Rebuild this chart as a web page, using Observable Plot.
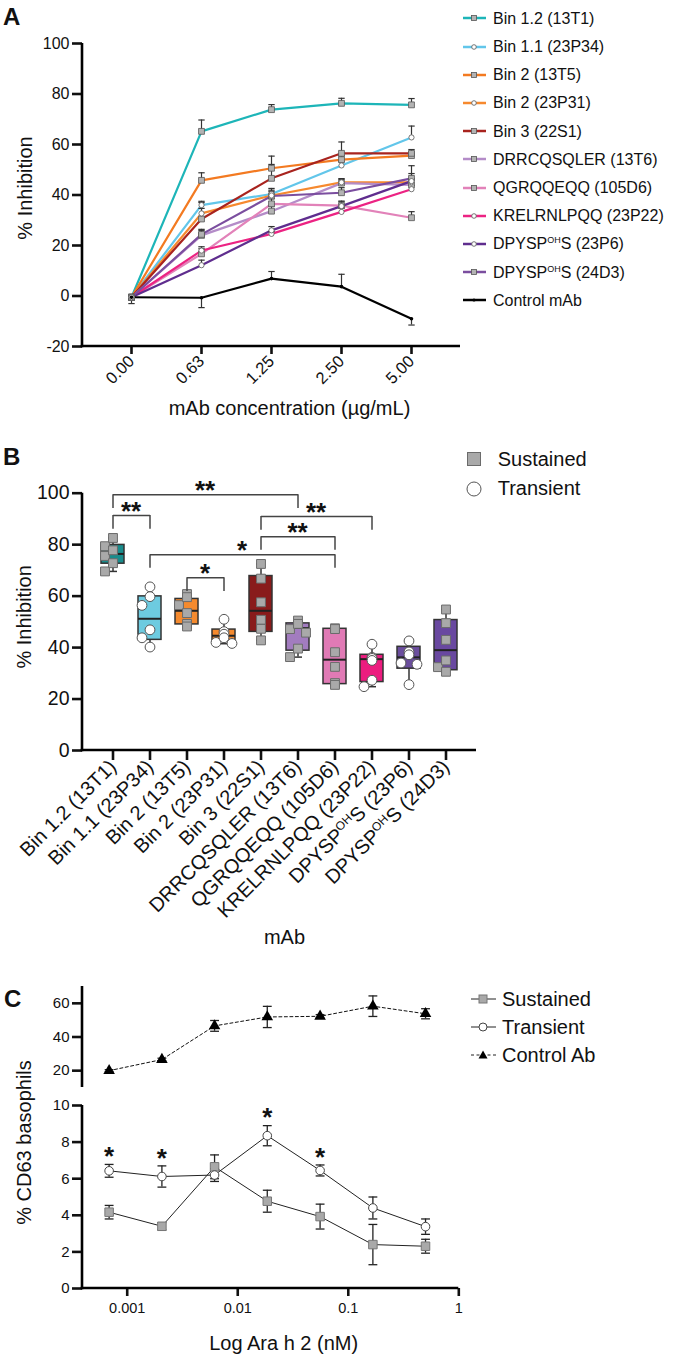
<!DOCTYPE html>
<html>
<head>
<meta charset="utf-8">
<script src="https://cdn.jsdelivr.net/npm/d3@7"></script>
<script src="https://cdn.jsdelivr.net/npm/@observablehq/plot@0.6"></script>
<style>
html,body{margin:0;padding:0;background:#fff;}
#page{position:relative;width:677px;height:1360px;overflow:hidden;font-family:"Liberation Sans",Arial,Helvetica,sans-serif;color:#111;}
.letter{position:absolute;font-weight:bold;font-size:24px;line-height:24px;}
.lg{position:absolute;white-space:nowrap;}
.lg sup{font-size:9px;vertical-align:6px;line-height:0;}
</style>
</head>
<body>
<div id="page"></div>
<script>
// ================= DATA =================
// ---- Panel A ----
const concLabels = ["0.00", "0.63", "1.25", "2.50", "5.00"];
const yTicksA = [-20, 0, 20, 40, 60, 80, 100];
const seriesA = ["Bin 1.2 (13T1)", "Bin 1.1 (23P34)", "Bin 2 (13T5)", "Bin 2 (23P31)", "Bin 3 (22S1)",
  "DRRCQSQLER (13T6)", "QGRQQEQQ (105D6)", "KRELRNLPQQ (23P22)", "DPYSPOHS (23P6)", "DPYSPOHS (24D3)", "Control mAb"];
const markerA = ["square", "circle", "square", "circle", "square", "square", "square", "circle", "circle", "square", "dot"];
const inh13T1  = [-0.5, 65.2, 73.8, 76.3, 75.7];
const err13T1  = [0, 4.5, 2.0, 2.0, 2.5];
const inh23P34 = [-0.5, 36.0, 40.4, 51.7, 62.8];
const err23P34 = [0, 1.5, 1.5, 1.5, 4.5];
const inh13T5  = [-0.5, 45.8, 50.6, 54.0, 55.6];
const err13T5  = [0, 3.0, 1.5, 1.5, 1.5];
const inh23P31 = [-0.5, 32.7, 39.8, 45.0, 45.0];
const err23P31 = [0, 2.0, 1.5, 1.5, 1.5];
const inh22S1  = [-0.5, 30.5, 46.6, 56.5, 56.5];
const err22S1  = [0, 6.5, 8.8, 4.5, 1.5];
const inh13T6  = [-0.5, 24.0, 33.6, 44.7, 44.0];
const err13T6  = [0, 2.0, 2.0, 1.5, 2.0];
const inh105D6 = [-0.5, 16.7, 36.5, 35.8, 31.0];
const err105D6 = [0, 2.0, 2.0, 1.5, 2.4];
const inh23P22 = [-0.5, 18.0, 24.6, 33.3, 42.3];
const err23P22 = [0, 1.5, 1.0, 1.5, 1.5];
const inh23P6  = [-0.5, 12.2, 26.0, 35.6, 45.5];
const err23P6  = [0, 2.0, 1.5, 2.0, 3.0];
const inh24D3  = [-0.5, 24.4, 39.6, 40.9, 46.6];
const err24D3  = [0, 2.0, 3.0, 2.0, 5.0];
const inhCtrl  = [-0.5, -0.7, 6.9, 3.7, -9.0];
const errCtrl  = [-2.5, -3.9, 2.8, 4.9, -2.5];

// ---- Panel B ----
const mAbs = ["Bin 1.2 (13T1)", "Bin 1.1 (23P34)", "Bin 2 (13T5)", "Bin 2 (23P31)", "Bin 3 (22S1)",
  "DRRCQSQLER (13T6)", "QGRQQEQQ (105D6)", "KRELRNLPQQ (23P22)", "DPYSPOHS (23P6)", "DPYSPOHS (24D3)"];
const typeB = ["Sustained", "Transient", "Sustained", "Transient", "Sustained", "Sustained", "Sustained", "Transient", "Transient", "Sustained"];
const yTicksB = [0, 20, 40, 60, 80, 100];
const minB = [69.6, 40.2, 48.2, 41.5, 42.8, 36.3, 25.5, 24.8, 25.6, 30.6];
const q1B  = [72.6, 43.0, 49.0, 42.3, 46.1, 38.8, 25.8, 26.6, 31.8, 31.2];
const medB = [76.4, 51.2, 54.3, 44.6, 54.3, 47.6, 35.3, 35.5, 36.2, 39.0];
const q3B  = [79.9, 59.9, 58.9, 47.0, 67.8, 49.4, 47.3, 37.2, 40.3, 50.7];
const maxB = [82.6, 63.6, 60.8, 51.0, 72.5, 50.5, 47.5, 41.3, 42.6, 54.8];
const ptsB = [
  [82.6, 79.4, 77.8, 75.6, 72.8, 69.6],
  [63.6, 59.8, 56.4, 46.9, 43.8, 40.2],
  [60.8, 59.6, 56.5, 53.4, 49.2, 48.2],
  [51.0, 46.2, 45.2, 43.8, 42.0, 41.6],
  [72.5, 66.8, 57.6, 50.8, 47.3, 42.8],
  [50.5, 49.2, 47.2, 45.8, 39.6, 36.3],
  [47.5, 47.2, 38.2, 32.5, 26.2, 25.5],
  [41.3, 36.2, 35.8, 35.0, 27.3, 24.8],
  [42.6, 38.3, 37.2, 34.0, 33.5, 25.6],
  [54.8, 49.5, 43.0, 35.0, 32.4, 30.6]
];
const bracketFrom  = ["Bin 1.2 (13T1)", "Bin 1.2 (13T1)", "Bin 3 (22S1)", "Bin 3 (22S1)", "Bin 1.1 (23P34)", "Bin 2 (13T5)"];
const bracketTo    = ["DRRCQSQLER (13T6)", "Bin 1.1 (23P34)", "KRELRNLPQQ (23P22)", "QGRQQEQQ (105D6)", "QGRQQEQQ (105D6)", "Bin 2 (23P31)"];
const bracketLevel = [99.4, 91.3, 90.9, 83.1, 76.1, 67.1];
const bracketLabel = ["**", "**", "**", "**", "*", "*"];

// ---- Panel C ----
const araH2 = [0.000686, 0.00206, 0.00617, 0.0185, 0.0556, 0.167, 0.5];
const xTicksC = [0.001, 0.01, 0.1, 1];
const cdSustained  = [4.17, 3.40, 6.65, 4.77, 3.93, 2.40, 2.31];
const errSustained = [0.37, 0.20, 0.65, 0.60, 0.68, 1.10, 0.38];
const cdTransient  = [6.43, 6.12, 6.20, 8.35, 6.45, 4.40, 3.38];
const errTransient = [0.35, 0.58, 0.35, 0.55, 0.30, 0.60, 0.42];
const cdControl    = [20.0, 26.6, 46.6, 51.9, 52.3, 58.3, 53.8];
const errControl   = [0.6, 0.8, 3.2, 6.3, 1.0, 6.1, 3.0];
const starIdxC = [0, 1, 3, 4];
const yTicksCtop = [20, 40, 60];
const yTicksCbot = [0, 2, 4, 6, 8, 10];

// ================= STYLE =================
const font = '"Liberation Sans", Arial, Helvetica, sans-serif';
const colorsA = ["#1db5b8", "#62c6ea", "#f37a21", "#f6892e", "#a8231e", "#b48cc8", "#e282b9", "#ec2383", "#5f2d8e", "#7b4e9f", "#000000"];
const boxColors = ["#198c8c", "#6dcbe0", "#f58a2e", "#f58a2e", "#891b1b", "#a27cbf", "#e07ab5", "#ec1c7f", "#6b4e9e", "#6948a0"];
const capSymbol = {draw(ctx, size) { const w = Math.sqrt(size) / 2; ctx.moveTo(-w, 0); ctx.lineTo(w, 0); }};
const page = document.getElementById("page");

function frameLines({left = true, bottom = true} = {}) {
  return (index, scales, values, dims) => {
    const {width, height, marginTop, marginRight, marginBottom, marginLeft} = dims;
    const g = d3.create("svg:g").attr("stroke", "#000").attr("stroke-width", 2.6).attr("fill", "none");
    const yb = height - marginBottom;
    if (left) g.append("line").attr("x1", marginLeft).attr("x2", marginLeft).attr("y1", marginTop).attr("y2", bottom ? yb + 1.3 : yb);
    if (bottom) g.append("line").attr("x1", marginLeft - 1.3).attr("x2", width - marginRight).attr("y1", yb).attr("y2", yb);
    return g.node();
  };
}
function place(el, top) {
  el.style.position = "absolute"; el.style.left = "0px"; el.style.top = top + "px"; el.style.overflow = "visible";
  page.appendChild(el);
}

// ================= PANEL A =================
const meansA = [inh13T1, inh23P34, inh13T5, inh23P31, inh22S1, inh13T6, inh105D6, inh23P22, inh23P6, inh24D3, inhCtrl];
const errsA  = [err13T1, err23P34, err13T5, err23P31, err22S1, err13T6, err105D6, err23P22, err23P6, err24D3, errCtrl];
const rowsA = [];
seriesA.forEach((s, i) => concLabels.forEach((c, j) => rowsA.push({series: s, conc: c, v: meansA[i][j], e: errsA[i][j], m: markerA[i]})));
const errRowsA = rowsA.filter(d => d.e !== 0);

const plotA = Plot.plot({
  width: 470, height: 420,
  marginLeft: 82, marginRight: 10, marginTop: 43, marginBottom: 74,
  style: {fontFamily: font, fontSize: "16px", color: "#111", background: "none"},
  x: {type: "point", domain: concLabels, padding: 0.662},
  y: {domain: [-20, 100]},
  color: {domain: seriesA, range: colorsA},
  marks: [
    Plot.axisY({ticks: yTicksA, tickFormat: d => String(d), tickSize: 10, tickPadding: 3, fontSize: 16, strokeWidth: 2.6, label: null}),
    Plot.axisX({tickRotate: -45, tickSize: 8, tickPadding: 4, fontSize: 16.5, strokeWidth: 2.6, label: null}),
    frameLines(),
    Plot.line(rowsA, {x: "conc", y: "v", z: "series", stroke: "series", strokeWidth: 2.2}),
    Plot.ruleX(errRowsA, {x: "conc", y1: "v", y2: d => d.v + d.e, stroke: "#333", strokeWidth: 1.2}),
    Plot.dot(errRowsA, {x: "conc", y: d => d.v + d.e, symbol: capSymbol, r: 3.6, stroke: "#333", strokeWidth: 1.2, fill: "none"}),
    Plot.dot(rowsA.filter(d => d.m === "square"), {x: "conc", y: "v", symbol: "square", r: 3.3, fill: "#b3b3b3", stroke: "#555", strokeWidth: 0.8}),
    Plot.dot(rowsA.filter(d => d.m === "circle"), {x: "conc", y: "v", r: 2.6, fill: "#fff", stroke: "#666", strokeWidth: 0.9}),
    Plot.dot(rowsA.filter(d => d.m === "dot"), {x: "conc", y: "v", r: 1.8, fill: "#000"}),
    Plot.text(["% Inhibition"], {frameAnchor: "left", textAnchor: "middle", lineAnchor: "middle", rotate: -90, dx: -57, dy: -7, fontSize: 20}),
    Plot.text(["mAb concentration (µg/mL)"], {frameAnchor: "bottom", textAnchor: "middle", lineAnchor: "middle", dx: 18, dy: 62, fontSize: 20})
  ]
});
place(plotA, 0);

// ================= PANEL B =================
const boxRows = mAbs.map((m, i) => ({mAb: m, min: minB[i], q1: q1B[i], med: medB[i], q3: q3B[i], max: maxB[i]}));
function jitterGroup(values, pxPerUnit, size, dxPx) {
  const order = values.map((v, i) => i).sort((a, b) => values[b] - values[a]);
  const placed = [], j = new Array(values.length);
  for (const i of order) {
    for (const c of [0, -1, 1]) {
      if (placed.every(p => Math.hypot((p.c - c) * dxPx, (p.v - values[i]) * pxPerUnit) >= size)) { j[i] = c; break; }
    }
    if (j[i] === undefined) j[i] = 0;
    placed.push({c: j[i], v: values[i]});
  }
  return j;
}
const ptRowsB = [];
ptsB.forEach((vals, i) => {
  const jit = jitterGroup(vals, 2.575, 8.8, 8);
  vals.forEach((v, k) => ptRowsB.push({mAb: mAbs[i], v, type: typeB[i], j: jit[k]}));
});
const brackets = bracketFrom.map((f, k) => ({from: f, to: bracketTo[k], level: bracketLevel[k], label: bracketLabel[k]}));
const legB = 5.3;
const pointMarksB = [];
for (const j of [-1, 0, 1]) {
  pointMarksB.push(Plot.dot(ptRowsB.filter(d => d.j === j && d.type === "Sustained"), {x: "mAb", y: "v", dx: 8 * j, symbol: "square", r: 5, fill: "#a9a9a9", stroke: "#6b6b6b", strokeWidth: 1}));
  pointMarksB.push(Plot.dot(ptRowsB.filter(d => d.j === j && d.type === "Transient"), {x: "mAb", y: "v", dx: 8 * j, r: 4.9, fill: "#fff", stroke: "#555", strokeWidth: 1}));
}
const starMarkB = (index, scales) => {
  const g = d3.create("svg:g").attr("font-family", font).attr("font-size", 26).attr("font-weight", "bold").attr("text-anchor", "middle").attr("fill", "#111");
  const bw = scales.x.bandwidth ? scales.x.bandwidth() : 0;
  brackets.forEach(b => {
    const x = (scales.x(b.from) + scales.x(b.to)) / 2 + bw / 2;
    g.append("text").attr("x", x).attr("y", scales.y(b.level) + 5).text(b.label);
  });
  return g.node();
};
const plotB = Plot.plot({
  width: 490, height: 540,
  marginLeft: 82, marginRight: 14, marginTop: 62.7, marginBottom: 220,
  style: {fontFamily: font, fontSize: "16px", color: "#111", background: "none"},
  x: {type: "band", domain: mAbs, paddingInner: 0.37, paddingOuter: 0.4},
  y: {domain: [0, 100]},
  color: {domain: mAbs, range: boxColors},
  marks: [
    Plot.axisY({ticks: yTicksB, tickSize: 10, tickPadding: 3, fontSize: 19.5, strokeWidth: 2.6, label: null}),
    Plot.axisX({tickRotate: -45, tickSize: 10, tickPadding: 3, fontSize: 20, strokeWidth: 2.6, label: null}),
    frameLines(),
    Plot.ruleX(boxRows, {x: "mAb", y1: "min", y2: "max", stroke: "#333", strokeWidth: 1.5}),
    Plot.tickY(boxRows, {x: "mAb", y: "min", stroke: "#333", strokeWidth: 1.5, insetLeft: 7, insetRight: 7}),
    Plot.tickY(boxRows, {x: "mAb", y: "max", stroke: "#333", strokeWidth: 1.5, insetLeft: 7, insetRight: 7}),
    Plot.barY(boxRows, {x: "mAb", y1: "q1", y2: "q3", fill: "mAb", stroke: "#333", strokeWidth: 1.5}),
    Plot.tickY(boxRows, {x: "mAb", y: "med", stroke: "#222", strokeWidth: 2}),
    ...pointMarksB,
    Plot.link(brackets, {x1: "from", x2: "to", y1: "level", y2: "level", stroke: "#444", strokeWidth: 1.5}),
    Plot.ruleX(brackets, {x: "from", y1: "level", y2: d => d.level - legB, stroke: "#444", strokeWidth: 1.5}),
    Plot.ruleX(brackets, {x: "to", y1: "level", y2: d => d.level - legB, stroke: "#444", strokeWidth: 1.5}),
    starMarkB,
    Plot.text(["% Inhibition"], {frameAnchor: "left", textAnchor: "middle", lineAnchor: "middle", rotate: -90, dx: -58, dy: -5, fontSize: 20}),
    Plot.text(["mAb"], {frameAnchor: "bottom", textAnchor: "middle", lineAnchor: "middle", dx: 5, dy: 187, fontSize: 20})
  ]
});
// superscript "OH" in DPYSPOHS tick labels
d3.select(plotB).selectAll("text").each(function() {
  const t = this.textContent;
  if (t.startsWith("DPYSPOHS")) {
    const s = d3.select(this); s.text(null);
    s.append("tspan").text("DPYSP");
    s.append("tspan").attr("dy", "-7").attr("font-size", "12").text("OH");
    s.append("tspan").attr("dy", "7").text("S" + t.slice(8));
  }
});
place(plotB, 430);

// ================= PANEL C =================
const ctrlRows = araH2.map((x, i) => ({x, v: cdControl[i], e: errControl[i]}));
const susRows = araH2.map((x, i) => ({x, v: cdSustained[i], e: errSustained[i]}));
const traRows = araH2.map((x, i) => ({x, v: cdTransient[i], e: errTransient[i]}));
const starRowsC = starIdxC.map(i => traRows[i]);
const xC = {type: "log", domain: [0.000394, 1]};

const plotC1 = Plot.plot({
  width: 480, height: 127,
  marginLeft: 82, marginRight: 21.7, marginTop: 26, marginBottom: 0,
  style: {fontFamily: font, fontSize: "15px", color: "#111", background: "none"},
  x: {...xC, axis: null},
  y: {domain: [10, 70]},
  marks: [
    Plot.axisY({ticks: yTicksCtop, tickSize: 10, tickPadding: 3, fontSize: 15, strokeWidth: 2.6, label: null}),
    frameLines({bottom: false}),
    Plot.line(ctrlRows, {x: "x", y: "v", stroke: "#111", strokeWidth: 1, strokeDasharray: "3,2.5"}),
    Plot.ruleX(ctrlRows, {x: "x", y1: d => d.v - d.e, y2: d => d.v + d.e, stroke: "#222", strokeWidth: 1.3}),
    Plot.dot(ctrlRows, {x: "x", y: d => d.v - d.e, symbol: capSymbol, r: 5, stroke: "#222", strokeWidth: 1.3, fill: "none"}),
    Plot.dot(ctrlRows, {x: "x", y: d => d.v + d.e, symbol: capSymbol, r: 5, stroke: "#222", strokeWidth: 1.3, fill: "none"}),
    Plot.dot(ctrlRows, {x: "x", y: "v", symbol: "triangle", r: 4.3, fill: "#000"})
  ]
});
place(plotC1, 960);

function errMarks(rows) {
  return [
    Plot.ruleX(rows, {x: "x", y1: d => d.v - d.e, y2: d => d.v + d.e, stroke: "#222", strokeWidth: 1.3}),
    Plot.dot(rows, {x: "x", y: d => d.v - d.e, symbol: capSymbol, r: 5, stroke: "#222", strokeWidth: 1.3, fill: "none"}),
    Plot.dot(rows, {x: "x", y: d => d.v + d.e, symbol: capSymbol, r: 5, stroke: "#222", strokeWidth: 1.3, fill: "none"})
  ];
}
const plotC2 = Plot.plot({
  width: 480, height: 265,
  marginLeft: 82, marginRight: 21.7, marginTop: 10, marginBottom: 72,
  style: {fontFamily: font, fontSize: "15px", color: "#111", background: "none"},
  x: xC,
  y: {domain: [0, 10]},
  marks: [
    Plot.axisY({ticks: yTicksCbot, tickSize: 10, tickPadding: 3, fontSize: 15, strokeWidth: 2.6, label: null}),
    Plot.axisX({ticks: xTicksC, tickFormat: d => String(d), tickSize: 8, tickPadding: 6, fontSize: 14.5, strokeWidth: 2.6, label: null}),
    frameLines(),
    Plot.line(susRows, {x: "x", y: "v", stroke: "#222", strokeWidth: 1}),
    Plot.line(traRows, {x: "x", y: "v", stroke: "#222", strokeWidth: 1}),
    ...errMarks(susRows),
    ...errMarks(traRows),
    Plot.dot(susRows, {x: "x", y: "v", symbol: "square", r: 4.8, fill: "#a9a9a9", stroke: "#777", strokeWidth: 1}),
    Plot.dot(traRows, {x: "x", y: "v", r: 4.3, fill: "#fff", stroke: "#444", strokeWidth: 1}),
    Plot.text(starRowsC, {x: "x", y: d => d.v + d.e, text: () => "*", fontSize: 26, fontWeight: "bold", lineAnchor: "middle", dy: -7.7}),
    Plot.text(["% CD63 basophils"], {frameAnchor: "left", textAnchor: "middle", lineAnchor: "middle", rotate: -90, dx: -58, dy: -54.5, fontSize: 20}),
    Plot.text(["Log Ara h 2 (nM)"], {frameAnchor: "bottom", textAnchor: "middle", lineAnchor: "middle", dx: 13, dy: 55, fontSize: 20})
  ]
});
place(plotC2, 1095);

// ================= LETTERS & LEGENDS (HTML) =================
function addDiv(cls, left, top, html, extra = {}) {
  const d = document.createElement("div");
  d.className = cls; d.style.left = left + "px"; d.style.top = top + "px"; d.innerHTML = html;
  Object.assign(d.style, extra); page.appendChild(d); return d;
}
addDiv("letter", 3, 5, "A");
addDiv("letter", 3, 445, "B");
addDiv("letter", 4, 987, "C");

const supHtml = s => s.replace("DPYSPOHS", "DPYSP<sup>OH</sup>S");
// Legend A
seriesA.forEach((name, i) => {
  const y = 18.3 + i * 28.2;
  const sw = d3.select(page).append("svg").style("position", "absolute").style("left", "460px").style("top", (y - 6) + "px").attr("width", 30).attr("height", 12);
  sw.append("line").attr("x1", 3).attr("x2", 26).attr("y1", 6).attr("y2", 6).attr("stroke", colorsA[i]).attr("stroke-width", 2.5);
  if (markerA[i] === "square") sw.append("rect").attr("x", 11.5).attr("y", 3.5).attr("width", 5).attr("height", 5).attr("fill", "#b3b3b3").attr("stroke", "#555").attr("stroke-width", 0.8);
  else if (markerA[i] === "circle") sw.append("circle").attr("cx", 14).attr("cy", 6).attr("r", 2.3).attr("fill", "#fff").attr("stroke", "#666").attr("stroke-width", 0.9);
  else sw.append("circle").attr("cx", 14).attr("cy", 6).attr("r", 1.6).attr("fill", "#000");
  addDiv("lg", 493, y - 9.5, supHtml(name), {fontSize: "16px", lineHeight: "20px"});
});

// Legend B
{
  const sw = d3.select(page).append("svg").style("position", "absolute").style("left", "460px").style("top", "445px").attr("width", 30).attr("height", 60);
  sw.append("rect").attr("x", 7.5).attr("y", 7.5).attr("width", 13).attr("height", 13).attr("fill", "#a9a9a9").attr("stroke", "#6b6b6b").attr("stroke-width", 1);
  sw.append("circle").attr("cx", 14).attr("cy", 44).attr("r", 7).attr("fill", "#fff").attr("stroke", "#555").attr("stroke-width", 1);
  addDiv("lg", 497.7, 447, "Sustained", {fontSize: "20px", lineHeight: "24px"});
  addDiv("lg", 497.7, 475.5, "Transient", {fontSize: "20px", lineHeight: "24px"});
}

// Legend C
{
  const items = [["Sustained", 999], ["Transient", 1026.5], ["Control Ab", 1055]];
  items.forEach(([label, y], k) => {
    const sw = d3.select(page).append("svg").style("position", "absolute").style("left", "468px").style("top", (y - 8) + "px").attr("width", 32).attr("height", 16);
    sw.append("line").attr("x1", 3).attr("x2", 28).attr("y1", 8).attr("y2", 8).attr("stroke", "#222").attr("stroke-width", 1).attr("stroke-dasharray", k === 2 ? "3,2.5" : null);
    if (k === 0) sw.append("rect").attr("x", 11).attr("y", 4).attr("width", 8).attr("height", 8).attr("fill", "#a9a9a9").attr("stroke", "#777");
    if (k === 1) sw.append("circle").attr("cx", 15).attr("cy", 8).attr("r", 4).attr("fill", "#fff").attr("stroke", "#444");
    if (k === 2) sw.append("path").attr("d", "M15,3.5L19.5,11.5L10.5,11.5Z").attr("fill", "#000");
    addDiv("lg", 502, y - 12, label, {fontSize: "20px", lineHeight: "24px"});
  });
}
</script>
</body>
</html>
